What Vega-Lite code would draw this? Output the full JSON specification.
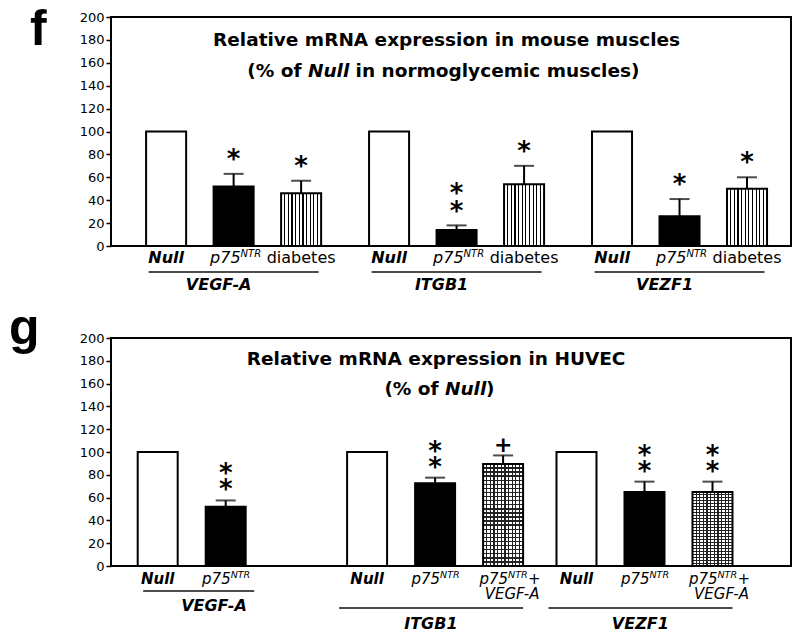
{
  "$schema": "https://vega.github.io/schema/vega-lite/v6.json",
  "background": "white",
  "padding": {"left": 8, "top": 4, "right": 5, "bottom": 5},
  "spacing": 92,
  "bounds": "flush",
  "resolve": {"scale": {"x": "independent", "xOffset": "independent", "y": "independent"}},
  "config": {
    "font": "DejaVu Sans",
    "view": {"stroke": "black", "strokeWidth": 2},
    "axis": {"labelFont": "DejaVu Sans", "labelFontSize": 13, "labelColor": "black", "tickColor": "black", "domainColor": "black", "grid": false, "labelOverlap": false},
    "axisY": {"tickSize": 5, "tickWidth": 1.5, "labelPadding": 2, "domain": false, "labelOverlap": false, "labelFlush": false},
    "text": {"color": "black"}
  },
  "datasets": {
    "fbars": [
      {"gene": "VEGF-A", "condition": "Null", "mean": 100},
      {"gene": "VEGF-A", "condition": "p75NTR", "mean": 52, "upper": 63, "sig": "*"},
      {"gene": "VEGF-A", "condition": "diabetes", "mean": 46, "upper": 57, "sig": "*"},
      {"gene": "ITGB1", "condition": "Null", "mean": 100},
      {"gene": "ITGB1", "condition": "p75NTR", "mean": 14, "upper": 18, "sig": "**"},
      {"gene": "ITGB1", "condition": "diabetes", "mean": 54, "upper": 70, "sig": "*"},
      {"gene": "VEZF1", "condition": "Null", "mean": 100},
      {"gene": "VEZF1", "condition": "p75NTR", "mean": 26, "upper": 41, "sig": "*"},
      {"gene": "VEZF1", "condition": "diabetes", "mean": 50, "upper": 60, "sig": "*"}
    ],
    "gbars": [
      {"gene": "VEGF-A", "condition": "Null", "mean": 100},
      {"gene": "VEGF-A", "condition": "p75NTR", "mean": 52, "upper": 57.5, "sig": "**"},
      {"gene": "ITGB1", "condition": "Null", "mean": 100},
      {"gene": "ITGB1", "condition": "p75NTR", "mean": 72.5, "upper": 77.5, "sig": "**"},
      {"gene": "ITGB1", "condition": "p75NTR+VEGF-A", "mean": 89.5, "upper": 97, "sig": "+"},
      {"gene": "VEZF1", "condition": "Null", "mean": 100},
      {"gene": "VEZF1", "condition": "p75NTR", "mean": 65, "upper": 74, "sig": "**"},
      {"gene": "VEZF1", "condition": "p75NTR+VEGF-A", "mean": 65, "upper": 74, "sig": "**"}
    ]
  },
  "vconcat": [
    {
      "width": 680,
      "height": 229,
      "title": {"text": "f", "anchor": "start", "frame": "group", "orient": "top", "font": "Liberation Sans", "fontSize": 50, "fontWeight": "bold", "color": "black", "baseline": "alphabetic", "offset": 0, "dx": -81, "dy": 84},
      "data": {"name": "fbars"},
      "layer": [
        {
          "transform": [{"filter": "datum.condition === 'Null'"}],
          "mark": {"type": "bar", "fill": "white", "stroke": "black", "strokeWidth": 2},
          "encoding": {
            "x": {"field": "gene", "type": "nominal", "scale": {"domain": ["VEGF-A", "ITGB1", "VEZF1"], "paddingInner": 0, "paddingOuter": 0.025, "align": 1}, "axis": null},
            "xOffset": {"field": "condition", "type": "nominal", "scale": {"domain": ["Null", "p75NTR", "diabetes"], "paddingInner": 0.407, "paddingOuter": 0.355}},
            "y": {"field": "mean", "type": "quantitative", "scale": {"domain": [0, 200], "nice": false}, "title": null, "axis": {"values": [0, 20, 40, 60, 80, 100, 120, 140, 160, 180, 200]}}
          }
        },
        {
          "transform": [{"filter": "datum.condition === 'p75NTR'"}],
          "mark": {"type": "bar", "fill": "black", "stroke": "black", "strokeWidth": 2},
          "encoding": {
            "x": {"field": "gene", "type": "nominal", "scale": {"domain": ["VEGF-A", "ITGB1", "VEZF1"], "paddingInner": 0, "paddingOuter": 0.025, "align": 1}, "axis": null},
            "xOffset": {"field": "condition", "type": "nominal", "scale": {"domain": ["Null", "p75NTR", "diabetes"], "paddingInner": 0.407, "paddingOuter": 0.355}},
            "y": {"field": "mean", "type": "quantitative", "scale": {"domain": [0, 200], "nice": false}, "title": null, "axis": {"values": [0, 20, 40, 60, 80, 100, 120, 140, 160, 180, 200]}}
          }
        },
        {
          "transform": [{"filter": "datum.condition === 'diabetes'"}],
          "mark": {"type": "bar", "stroke": "black", "strokeWidth": 2, "fill": {"gradient": "linear", "x1": 0, "y1": 0, "x2": 1, "y2": 0, "stops": [
            {"offset": 0, "color": "white"},
            {"offset": 0.0759, "color": "white"}, {"offset": 0.0759, "color": "black"}, {"offset": 0.1059, "color": "black"}, {"offset": 0.1059, "color": "white"},
            {"offset": 0.1668, "color": "white"}, {"offset": 0.1668, "color": "black"}, {"offset": 0.1968, "color": "black"}, {"offset": 0.1968, "color": "white"},
            {"offset": 0.2577, "color": "white"}, {"offset": 0.2577, "color": "black"}, {"offset": 0.2877, "color": "black"}, {"offset": 0.2877, "color": "white"},
            {"offset": 0.3486, "color": "white"}, {"offset": 0.3486, "color": "black"}, {"offset": 0.3786, "color": "black"}, {"offset": 0.3786, "color": "white"},
            {"offset": 0.4395, "color": "white"}, {"offset": 0.4395, "color": "black"}, {"offset": 0.4695, "color": "black"}, {"offset": 0.4695, "color": "white"},
            {"offset": 0.5305, "color": "white"}, {"offset": 0.5305, "color": "black"}, {"offset": 0.5605, "color": "black"}, {"offset": 0.5605, "color": "white"},
            {"offset": 0.6214, "color": "white"}, {"offset": 0.6214, "color": "black"}, {"offset": 0.6514, "color": "black"}, {"offset": 0.6514, "color": "white"},
            {"offset": 0.7123, "color": "white"}, {"offset": 0.7123, "color": "black"}, {"offset": 0.7423, "color": "black"}, {"offset": 0.7423, "color": "white"},
            {"offset": 0.8032, "color": "white"}, {"offset": 0.8032, "color": "black"}, {"offset": 0.8332, "color": "black"}, {"offset": 0.8332, "color": "white"},
            {"offset": 0.8941, "color": "white"}, {"offset": 0.8941, "color": "black"}, {"offset": 0.9241, "color": "black"}, {"offset": 0.9241, "color": "white"},
            {"offset": 1, "color": "white"}
          ]}},
          "encoding": {
            "x": {"field": "gene", "type": "nominal", "scale": {"domain": ["VEGF-A", "ITGB1", "VEZF1"], "paddingInner": 0, "paddingOuter": 0.025, "align": 1}, "axis": null},
            "xOffset": {"field": "condition", "type": "nominal", "scale": {"domain": ["Null", "p75NTR", "diabetes"], "paddingInner": 0.407, "paddingOuter": 0.355}},
            "y": {"field": "mean", "type": "quantitative", "scale": {"domain": [0, 200], "nice": false}, "title": null, "axis": {"values": [0, 20, 40, 60, 80, 100, 120, 140, 160, 180, 200]}}
          }
        },
        {
          "transform": [{"filter": "isValid(datum.upper)"}],
          "mark": {"type": "rule", "color": "black", "strokeWidth": 2},
          "encoding": {
            "x": {"field": "gene", "type": "nominal", "scale": {"domain": ["VEGF-A", "ITGB1", "VEZF1"], "paddingInner": 0, "paddingOuter": 0.025, "align": 1}, "axis": null},
            "xOffset": {"field": "condition", "type": "nominal", "scale": {"domain": ["Null", "p75NTR", "diabetes"], "paddingInner": 0.407, "paddingOuter": 0.355}},
            "y": {"field": "mean", "type": "quantitative", "scale": {"domain": [0, 200], "nice": false}, "title": null, "axis": {"values": [0, 20, 40, 60, 80, 100, 120, 140, 160, 180, 200]}},
            "y2": {"field": "upper"}
          }
        },
        {
          "transform": [{"filter": "isValid(datum.upper)"}],
          "mark": {"type": "tick", "color": "black", "thickness": 2, "size": 20, "orient": "horizontal"},
          "encoding": {
            "x": {"field": "gene", "type": "nominal", "scale": {"domain": ["VEGF-A", "ITGB1", "VEZF1"], "paddingInner": 0, "paddingOuter": 0.025, "align": 1}, "axis": null},
            "xOffset": {"field": "condition", "type": "nominal", "scale": {"domain": ["Null", "p75NTR", "diabetes"], "paddingInner": 0.407, "paddingOuter": 0.355}},
            "y": {"field": "upper", "type": "quantitative", "scale": {"domain": [0, 200], "nice": false}, "title": null, "axis": {"values": [0, 20, 40, 60, 80, 100, 120, 140, 160, 180, 200]}}
          }
        },
        {
          "transform": [{"filter": "datum.sig === '*'"}],
          "mark": {"type": "text", "fontWeight": "bold", "fontSize": 26, "baseline": "bottom", "dy": -1},
          "encoding": {
            "x": {"field": "gene", "type": "nominal", "scale": {"domain": ["VEGF-A", "ITGB1", "VEZF1"], "paddingInner": 0, "paddingOuter": 0.025, "align": 1}, "axis": null},
            "xOffset": {"field": "condition", "type": "nominal", "scale": {"domain": ["Null", "p75NTR", "diabetes"], "paddingInner": 0.407, "paddingOuter": 0.355}},
            "y": {"field": "upper", "type": "quantitative", "scale": {"domain": [0, 200], "nice": false}, "title": null, "axis": {"values": [0, 20, 40, 60, 80, 100, 120, 140, 160, 180, 200]}},
            "text": {"field": "sig"}
          }
        },
        {
          "transform": [{"filter": "datum.sig === '**'"}],
          "mark": {"type": "text", "fontWeight": "bold", "fontSize": 26, "baseline": "bottom", "dy": 0},
          "encoding": {
            "x": {"field": "gene", "type": "nominal", "scale": {"domain": ["VEGF-A", "ITGB1", "VEZF1"], "paddingInner": 0, "paddingOuter": 0.025, "align": 1}, "axis": null},
            "xOffset": {"field": "condition", "type": "nominal", "scale": {"domain": ["Null", "p75NTR", "diabetes"], "paddingInner": 0.407, "paddingOuter": 0.355}},
            "y": {"field": "upper", "type": "quantitative", "scale": {"domain": [0, 200], "nice": false}, "title": null, "axis": {"values": [0, 20, 40, 60, 80, 100, 120, 140, 160, 180, 200]}},
            "text": {"value": "*"}
          }
        },
        {
          "transform": [{"filter": "datum.sig === '**'"}],
          "mark": {"type": "text", "fontWeight": "bold", "fontSize": 26, "baseline": "bottom", "dy": -18},
          "encoding": {
            "x": {"field": "gene", "type": "nominal", "scale": {"domain": ["VEGF-A", "ITGB1", "VEZF1"], "paddingInner": 0, "paddingOuter": 0.025, "align": 1}, "axis": null},
            "xOffset": {"field": "condition", "type": "nominal", "scale": {"domain": ["Null", "p75NTR", "diabetes"], "paddingInner": 0.407, "paddingOuter": 0.355}},
            "y": {"field": "upper", "type": "quantitative", "scale": {"domain": [0, 200], "nice": false}, "title": null, "axis": {"values": [0, 20, 40, 60, 80, 100, 120, 140, 160, 180, 200]}},
            "text": {"value": "*"}
          }
        },
        {
          "transform": [{"filter": "datum.condition === 'Null'"}],
          "mark": {"type": "text", "fontSize": 16, "fontStyle": "italic", "fontWeight": "bold", "baseline": "middle"},
          "encoding": {
            "x": {"field": "gene", "type": "nominal", "scale": {"domain": ["VEGF-A", "ITGB1", "VEZF1"], "paddingInner": 0, "paddingOuter": 0.025, "align": 1}, "axis": null},
            "xOffset": {"field": "condition", "type": "nominal", "scale": {"domain": ["Null", "p75NTR", "diabetes"], "paddingInner": 0.407, "paddingOuter": 0.355}},
            "y": {"datum": -10.5, "type": "quantitative", "scale": {"domain": [0, 200], "nice": false}, "title": null, "axis": {"values": [0, 20, 40, 60, 80, 100, 120, 140, 160, 180, 200]}},
            "text": {"field": "condition"}
          }
        },
        {
          "transform": [{"filter": "datum.condition === 'p75NTR'"}],
          "mark": {"type": "text", "fontSize": 16, "fontStyle": "italic", "baseline": "middle", "align": "right", "dx": 7},
          "encoding": {
            "x": {"field": "gene", "type": "nominal", "scale": {"domain": ["VEGF-A", "ITGB1", "VEZF1"], "paddingInner": 0, "paddingOuter": 0.025, "align": 1}, "axis": null},
            "xOffset": {"field": "condition", "type": "nominal", "scale": {"domain": ["Null", "p75NTR", "diabetes"], "paddingInner": 0.407, "paddingOuter": 0.355}},
            "y": {"datum": -10.5, "type": "quantitative", "scale": {"domain": [0, 200], "nice": false}, "title": null, "axis": {"values": [0, 20, 40, 60, 80, 100, 120, 140, 160, 180, 200]}},
            "text": {"value": "p75"}
          }
        },
        {
          "transform": [{"filter": "datum.condition === 'p75NTR'"}],
          "mark": {"type": "text", "fontSize": 10, "fontStyle": "italic", "baseline": "middle", "align": "left", "dx": 7, "dy": -4},
          "encoding": {
            "x": {"field": "gene", "type": "nominal", "scale": {"domain": ["VEGF-A", "ITGB1", "VEZF1"], "paddingInner": 0, "paddingOuter": 0.025, "align": 1}, "axis": null},
            "xOffset": {"field": "condition", "type": "nominal", "scale": {"domain": ["Null", "p75NTR", "diabetes"], "paddingInner": 0.407, "paddingOuter": 0.355}},
            "y": {"datum": -10.5, "type": "quantitative", "scale": {"domain": [0, 200], "nice": false}, "title": null, "axis": {"values": [0, 20, 40, 60, 80, 100, 120, 140, 160, 180, 200]}},
            "text": {"value": "NTR"}
          }
        },
        {
          "transform": [{"filter": "datum.condition === 'diabetes'"}],
          "mark": {"type": "text", "fontSize": 16, "baseline": "middle"},
          "encoding": {
            "x": {"field": "gene", "type": "nominal", "scale": {"domain": ["VEGF-A", "ITGB1", "VEZF1"], "paddingInner": 0, "paddingOuter": 0.025, "align": 1}, "axis": null},
            "xOffset": {"field": "condition", "type": "nominal", "scale": {"domain": ["Null", "p75NTR", "diabetes"], "paddingInner": 0.407, "paddingOuter": 0.355}},
            "y": {"datum": -10.5, "type": "quantitative", "scale": {"domain": [0, 200], "nice": false}, "title": null, "axis": {"values": [0, 20, 40, 60, 80, 100, 120, 140, 160, 180, 200]}},
            "text": {"field": "condition"}
          }
        },
        {
          "transform": [{"filter": "datum.condition === 'p75NTR'"}],
          "mark": {"type": "tick", "orient": "horizontal", "size": 170, "thickness": 2, "color": "black"},
          "encoding": {
            "x": {"field": "gene", "type": "nominal", "scale": {"domain": ["VEGF-A", "ITGB1", "VEZF1"], "paddingInner": 0, "paddingOuter": 0.025, "align": 1}, "axis": null},
            "y": {"datum": -22.7, "type": "quantitative", "scale": {"domain": [0, 200], "nice": false}, "title": null, "axis": {"values": [0, 20, 40, 60, 80, 100, 120, 140, 160, 180, 200]}}
          }
        },
        {
          "transform": [{"filter": "datum.condition === 'p75NTR'"}],
          "mark": {"type": "text", "fontSize": 16, "fontStyle": "italic", "fontWeight": "bold", "baseline": "middle", "dx": -15},
          "encoding": {
            "x": {"field": "gene", "type": "nominal", "scale": {"domain": ["VEGF-A", "ITGB1", "VEZF1"], "paddingInner": 0, "paddingOuter": 0.025, "align": 1}, "axis": null},
            "y": {"datum": -34, "type": "quantitative", "scale": {"domain": [0, 200], "nice": false}, "title": null, "axis": {"values": [0, 20, 40, 60, 80, 100, 120, 140, 160, 180, 200]}},
            "text": {"field": "gene"}
          }
        },
        {
          "transform": [{"filter": "datum.gene === 'ITGB1' && datum.condition === 'Null'"}],
          "mark": {"type": "text", "fontSize": 18.5, "fontWeight": "bold", "baseline": "middle", "dx": -10},
          "encoding": {
            "x": {"field": "gene", "type": "nominal", "scale": {"domain": ["VEGF-A", "ITGB1", "VEZF1"], "paddingInner": 0, "paddingOuter": 0.025, "align": 1}, "axis": null},
            "y": {"datum": 180, "type": "quantitative", "scale": {"domain": [0, 200], "nice": false}, "title": null, "axis": {"values": [0, 20, 40, 60, 80, 100, 120, 140, 160, 180, 200]}},
            "text": {"value": "Relative mRNA expression in mouse muscles"}
          }
        },
        {
          "transform": [{"filter": "datum.gene === 'ITGB1' && datum.condition === 'Null'"}],
          "mark": {"type": "text", "fontSize": 18.5, "fontWeight": "bold", "baseline": "middle", "align": "right", "dx": -155},
          "encoding": {
            "x": {"field": "gene", "type": "nominal", "scale": {"domain": ["VEGF-A", "ITGB1", "VEZF1"], "paddingInner": 0, "paddingOuter": 0.025, "align": 1}, "axis": null},
            "y": {"datum": 153, "type": "quantitative", "scale": {"domain": [0, 200], "nice": false}, "title": null, "axis": {"values": [0, 20, 40, 60, 80, 100, 120, 140, 160, 180, 200]}},
            "text": {"value": "(% of"}
          }
        },
        {
          "transform": [{"filter": "datum.gene === 'ITGB1' && datum.condition === 'Null'"}],
          "mark": {"type": "text", "fontSize": 18.5, "fontWeight": "bold", "fontStyle": "italic", "baseline": "middle", "align": "center", "dx": -128},
          "encoding": {
            "x": {"field": "gene", "type": "nominal", "scale": {"domain": ["VEGF-A", "ITGB1", "VEZF1"], "paddingInner": 0, "paddingOuter": 0.025, "align": 1}, "axis": null},
            "y": {"datum": 153, "type": "quantitative", "scale": {"domain": [0, 200], "nice": false}, "title": null, "axis": {"values": [0, 20, 40, 60, 80, 100, 120, 140, 160, 180, 200]}},
            "text": {"value": "Null"}
          }
        },
        {
          "transform": [{"filter": "datum.gene === 'ITGB1' && datum.condition === 'Null'"}],
          "mark": {"type": "text", "fontSize": 18.5, "fontWeight": "bold", "baseline": "middle", "align": "left", "dx": -101},
          "encoding": {
            "x": {"field": "gene", "type": "nominal", "scale": {"domain": ["VEGF-A", "ITGB1", "VEZF1"], "paddingInner": 0, "paddingOuter": 0.025, "align": 1}, "axis": null},
            "y": {"datum": 153, "type": "quantitative", "scale": {"domain": [0, 200], "nice": false}, "title": null, "axis": {"values": [0, 20, 40, 60, 80, 100, 120, 140, 160, 180, 200]}},
            "text": {"value": "in normoglycemic muscles)"}
          }
        }
      ]
    },
    {
      "width": 680,
      "height": 228,
      "title": {"text": "g", "anchor": "start", "frame": "group", "orient": "top", "font": "Liberation Sans", "fontSize": 50, "fontWeight": "bold", "color": "black", "baseline": "alphabetic", "offset": 0, "dx": -102, "dy": 62},
      "data": {"name": "gbars"},
      "layer": [
        {
          "transform": [{"filter": "datum.condition === 'Null'"}],
          "mark": {"type": "bar", "fill": "white", "stroke": "black", "strokeWidth": 2},
          "encoding": {
            "x": {"field": "gene", "type": "nominal", "scale": {"domain": ["VEGF-A", "ITGB1", "VEZF1"], "paddingInner": 0, "paddingOuter": 0.1237, "align": 0.193}, "axis": null},
            "xOffset": {"field": "condition", "type": "nominal", "scale": {"domain": ["Null", "p75NTR", "p75NTR+VEGF-A"], "paddingInner": 0.412, "paddingOuter": 0.2456}},
            "y": {"field": "mean", "type": "quantitative", "scale": {"domain": [0, 200], "nice": false}, "title": null, "axis": {"values": [0, 20, 40, 60, 80, 100, 120, 140, 160, 180, 200]}}
          }
        },
        {
          "transform": [{"filter": "datum.condition === 'p75NTR'"}],
          "mark": {"type": "bar", "fill": "black", "stroke": "black", "strokeWidth": 2},
          "encoding": {
            "x": {"field": "gene", "type": "nominal", "scale": {"domain": ["VEGF-A", "ITGB1", "VEZF1"], "paddingInner": 0, "paddingOuter": 0.1237, "align": 0.193}, "axis": null},
            "xOffset": {"field": "condition", "type": "nominal", "scale": {"domain": ["Null", "p75NTR", "p75NTR+VEGF-A"], "paddingInner": 0.412, "paddingOuter": 0.2456}},
            "y": {"field": "mean", "type": "quantitative", "scale": {"domain": [0, 200], "nice": false}, "title": null, "axis": {"values": [0, 20, 40, 60, 80, 100, 120, 140, 160, 180, 200]}}
          }
        },
        {
          "transform": [{"filter": "datum.condition === 'p75NTR+VEGF-A'"}],
          "mark": {"type": "bar", "fill": {"gradient": "linear", "x1": 0, "y1": 0, "x2": 1, "y2": 0, "stops": [
            {"offset": 0, "color": "white"},
            {"offset": 0.0759, "color": "white"}, {"offset": 0.0759, "color": "#222"}, {"offset": 0.1059, "color": "#222"}, {"offset": 0.1059, "color": "white"},
            {"offset": 0.1668, "color": "white"}, {"offset": 0.1668, "color": "#222"}, {"offset": 0.1968, "color": "#222"}, {"offset": 0.1968, "color": "white"},
            {"offset": 0.2577, "color": "white"}, {"offset": 0.2577, "color": "#222"}, {"offset": 0.2877, "color": "#222"}, {"offset": 0.2877, "color": "white"},
            {"offset": 0.3486, "color": "white"}, {"offset": 0.3486, "color": "#222"}, {"offset": 0.3786, "color": "#222"}, {"offset": 0.3786, "color": "white"},
            {"offset": 0.4395, "color": "white"}, {"offset": 0.4395, "color": "#222"}, {"offset": 0.4695, "color": "#222"}, {"offset": 0.4695, "color": "white"},
            {"offset": 0.5305, "color": "white"}, {"offset": 0.5305, "color": "#222"}, {"offset": 0.5605, "color": "#222"}, {"offset": 0.5605, "color": "white"},
            {"offset": 0.6214, "color": "white"}, {"offset": 0.6214, "color": "#222"}, {"offset": 0.6514, "color": "#222"}, {"offset": 0.6514, "color": "white"},
            {"offset": 0.7123, "color": "white"}, {"offset": 0.7123, "color": "#222"}, {"offset": 0.7423, "color": "#222"}, {"offset": 0.7423, "color": "white"},
            {"offset": 0.8032, "color": "white"}, {"offset": 0.8032, "color": "#222"}, {"offset": 0.8332, "color": "#222"}, {"offset": 0.8332, "color": "white"},
            {"offset": 0.8941, "color": "white"}, {"offset": 0.8941, "color": "#222"}, {"offset": 0.9241, "color": "#222"}, {"offset": 0.9241, "color": "white"},
            {"offset": 1, "color": "white"}
          ]}},
          "encoding": {
            "x": {"field": "gene", "type": "nominal", "scale": {"domain": ["VEGF-A", "ITGB1", "VEZF1"], "paddingInner": 0, "paddingOuter": 0.1237, "align": 0.193}, "axis": null},
            "xOffset": {"field": "condition", "type": "nominal", "scale": {"domain": ["Null", "p75NTR", "p75NTR+VEGF-A"], "paddingInner": 0.412, "paddingOuter": 0.2456}},
            "y": {"field": "mean", "type": "quantitative", "scale": {"domain": [0, 200], "nice": false}, "title": null, "axis": {"values": [0, 20, 40, 60, 80, 100, 120, 140, 160, 180, 200]}}
          }
        },
        {
          "transform": [{"filter": "datum.condition === 'p75NTR+VEGF-A'"}],
          "mark": {"type": "bar", "stroke": "black", "strokeWidth": 2, "fill": {"gradient": "linear", "x1": 0, "y1": 0, "x2": 0, "y2": 1, "stops": [
            {"offset": 0, "color": "rgba(0,0,0,0)"},
            {"offset": 0.033, "color": "rgba(0,0,0,0)"}, {"offset": 0.033, "color": "#222"}, {"offset": 0.047, "color": "#222"}, {"offset": 0.047, "color": "rgba(0,0,0,0)"},
            {"offset": 0.073, "color": "rgba(0,0,0,0)"}, {"offset": 0.073, "color": "#222"}, {"offset": 0.087, "color": "#222"}, {"offset": 0.087, "color": "rgba(0,0,0,0)"},
            {"offset": 0.113, "color": "rgba(0,0,0,0)"}, {"offset": 0.113, "color": "#222"}, {"offset": 0.127, "color": "#222"}, {"offset": 0.127, "color": "rgba(0,0,0,0)"},
            {"offset": 0.153, "color": "rgba(0,0,0,0)"}, {"offset": 0.153, "color": "#222"}, {"offset": 0.167, "color": "#222"}, {"offset": 0.167, "color": "rgba(0,0,0,0)"},
            {"offset": 0.193, "color": "rgba(0,0,0,0)"}, {"offset": 0.193, "color": "#222"}, {"offset": 0.207, "color": "#222"}, {"offset": 0.207, "color": "rgba(0,0,0,0)"},
            {"offset": 0.233, "color": "rgba(0,0,0,0)"}, {"offset": 0.233, "color": "#222"}, {"offset": 0.247, "color": "#222"}, {"offset": 0.247, "color": "rgba(0,0,0,0)"},
            {"offset": 0.273, "color": "rgba(0,0,0,0)"}, {"offset": 0.273, "color": "#222"}, {"offset": 0.287, "color": "#222"}, {"offset": 0.287, "color": "rgba(0,0,0,0)"},
            {"offset": 0.313, "color": "rgba(0,0,0,0)"}, {"offset": 0.313, "color": "#222"}, {"offset": 0.327, "color": "#222"}, {"offset": 0.327, "color": "rgba(0,0,0,0)"},
            {"offset": 0.353, "color": "rgba(0,0,0,0)"}, {"offset": 0.353, "color": "#222"}, {"offset": 0.367, "color": "#222"}, {"offset": 0.367, "color": "rgba(0,0,0,0)"},
            {"offset": 0.393, "color": "rgba(0,0,0,0)"}, {"offset": 0.393, "color": "#222"}, {"offset": 0.407, "color": "#222"}, {"offset": 0.407, "color": "rgba(0,0,0,0)"},
            {"offset": 0.433, "color": "rgba(0,0,0,0)"}, {"offset": 0.433, "color": "#222"}, {"offset": 0.447, "color": "#222"}, {"offset": 0.447, "color": "rgba(0,0,0,0)"},
            {"offset": 0.473, "color": "rgba(0,0,0,0)"}, {"offset": 0.473, "color": "#222"}, {"offset": 0.487, "color": "#222"}, {"offset": 0.487, "color": "rgba(0,0,0,0)"},
            {"offset": 0.513, "color": "rgba(0,0,0,0)"}, {"offset": 0.513, "color": "#222"}, {"offset": 0.527, "color": "#222"}, {"offset": 0.527, "color": "rgba(0,0,0,0)"},
            {"offset": 0.553, "color": "rgba(0,0,0,0)"}, {"offset": 0.553, "color": "#222"}, {"offset": 0.567, "color": "#222"}, {"offset": 0.567, "color": "rgba(0,0,0,0)"},
            {"offset": 0.593, "color": "rgba(0,0,0,0)"}, {"offset": 0.593, "color": "#222"}, {"offset": 0.607, "color": "#222"}, {"offset": 0.607, "color": "rgba(0,0,0,0)"},
            {"offset": 0.633, "color": "rgba(0,0,0,0)"}, {"offset": 0.633, "color": "#222"}, {"offset": 0.647, "color": "#222"}, {"offset": 0.647, "color": "rgba(0,0,0,0)"},
            {"offset": 0.673, "color": "rgba(0,0,0,0)"}, {"offset": 0.673, "color": "#222"}, {"offset": 0.687, "color": "#222"}, {"offset": 0.687, "color": "rgba(0,0,0,0)"},
            {"offset": 0.713, "color": "rgba(0,0,0,0)"}, {"offset": 0.713, "color": "#222"}, {"offset": 0.727, "color": "#222"}, {"offset": 0.727, "color": "rgba(0,0,0,0)"},
            {"offset": 0.753, "color": "rgba(0,0,0,0)"}, {"offset": 0.753, "color": "#222"}, {"offset": 0.767, "color": "#222"}, {"offset": 0.767, "color": "rgba(0,0,0,0)"},
            {"offset": 0.793, "color": "rgba(0,0,0,0)"}, {"offset": 0.793, "color": "#222"}, {"offset": 0.807, "color": "#222"}, {"offset": 0.807, "color": "rgba(0,0,0,0)"},
            {"offset": 0.833, "color": "rgba(0,0,0,0)"}, {"offset": 0.833, "color": "#222"}, {"offset": 0.847, "color": "#222"}, {"offset": 0.847, "color": "rgba(0,0,0,0)"},
            {"offset": 0.873, "color": "rgba(0,0,0,0)"}, {"offset": 0.873, "color": "#222"}, {"offset": 0.887, "color": "#222"}, {"offset": 0.887, "color": "rgba(0,0,0,0)"},
            {"offset": 0.913, "color": "rgba(0,0,0,0)"}, {"offset": 0.913, "color": "#222"}, {"offset": 0.927, "color": "#222"}, {"offset": 0.927, "color": "rgba(0,0,0,0)"},
            {"offset": 0.953, "color": "rgba(0,0,0,0)"}, {"offset": 0.953, "color": "#222"}, {"offset": 0.967, "color": "#222"}, {"offset": 0.967, "color": "rgba(0,0,0,0)"},
            {"offset": 1, "color": "rgba(0,0,0,0)"}
          ]}},
          "encoding": {
            "x": {"field": "gene", "type": "nominal", "scale": {"domain": ["VEGF-A", "ITGB1", "VEZF1"], "paddingInner": 0, "paddingOuter": 0.1237, "align": 0.193}, "axis": null},
            "xOffset": {"field": "condition", "type": "nominal", "scale": {"domain": ["Null", "p75NTR", "p75NTR+VEGF-A"], "paddingInner": 0.412, "paddingOuter": 0.2456}},
            "y": {"field": "mean", "type": "quantitative", "scale": {"domain": [0, 200], "nice": false}, "title": null, "axis": {"values": [0, 20, 40, 60, 80, 100, 120, 140, 160, 180, 200]}}
          }
        },
        {
          "transform": [{"filter": "isValid(datum.upper)"}],
          "mark": {"type": "rule", "color": "black", "strokeWidth": 2},
          "encoding": {
            "x": {"field": "gene", "type": "nominal", "scale": {"domain": ["VEGF-A", "ITGB1", "VEZF1"], "paddingInner": 0, "paddingOuter": 0.1237, "align": 0.193}, "axis": null},
            "xOffset": {"field": "condition", "type": "nominal", "scale": {"domain": ["Null", "p75NTR", "p75NTR+VEGF-A"], "paddingInner": 0.412, "paddingOuter": 0.2456}},
            "y": {"field": "mean", "type": "quantitative", "scale": {"domain": [0, 200], "nice": false}, "title": null, "axis": {"values": [0, 20, 40, 60, 80, 100, 120, 140, 160, 180, 200]}},
            "y2": {"field": "upper"}
          }
        },
        {
          "transform": [{"filter": "isValid(datum.upper)"}],
          "mark": {"type": "tick", "color": "black", "thickness": 2, "size": 20, "orient": "horizontal"},
          "encoding": {
            "x": {"field": "gene", "type": "nominal", "scale": {"domain": ["VEGF-A", "ITGB1", "VEZF1"], "paddingInner": 0, "paddingOuter": 0.1237, "align": 0.193}, "axis": null},
            "xOffset": {"field": "condition", "type": "nominal", "scale": {"domain": ["Null", "p75NTR", "p75NTR+VEGF-A"], "paddingInner": 0.412, "paddingOuter": 0.2456}},
            "y": {"field": "upper", "type": "quantitative", "scale": {"domain": [0, 200], "nice": false}, "title": null, "axis": {"values": [0, 20, 40, 60, 80, 100, 120, 140, 160, 180, 200]}}
          }
        },
        {
          "transform": [{"filter": "datum.sig === '**'"}],
          "mark": {"type": "text", "fontWeight": "bold", "fontSize": 26, "baseline": "bottom", "dy": 3},
          "encoding": {
            "x": {"field": "gene", "type": "nominal", "scale": {"domain": ["VEGF-A", "ITGB1", "VEZF1"], "paddingInner": 0, "paddingOuter": 0.1237, "align": 0.193}, "axis": null},
            "xOffset": {"field": "condition", "type": "nominal", "scale": {"domain": ["Null", "p75NTR", "p75NTR+VEGF-A"], "paddingInner": 0.412, "paddingOuter": 0.2456}},
            "y": {"field": "upper", "type": "quantitative", "scale": {"domain": [0, 200], "nice": false}, "title": null, "axis": {"values": [0, 20, 40, 60, 80, 100, 120, 140, 160, 180, 200]}},
            "text": {"value": "*"}
          }
        },
        {
          "transform": [{"filter": "datum.sig === '**'"}],
          "mark": {"type": "text", "fontWeight": "bold", "fontSize": 26, "baseline": "bottom", "dy": -13},
          "encoding": {
            "x": {"field": "gene", "type": "nominal", "scale": {"domain": ["VEGF-A", "ITGB1", "VEZF1"], "paddingInner": 0, "paddingOuter": 0.1237, "align": 0.193}, "axis": null},
            "xOffset": {"field": "condition", "type": "nominal", "scale": {"domain": ["Null", "p75NTR", "p75NTR+VEGF-A"], "paddingInner": 0.412, "paddingOuter": 0.2456}},
            "y": {"field": "upper", "type": "quantitative", "scale": {"domain": [0, 200], "nice": false}, "title": null, "axis": {"values": [0, 20, 40, 60, 80, 100, 120, 140, 160, 180, 200]}},
            "text": {"value": "*"}
          }
        },
        {
          "transform": [{"filter": "datum.sig === '+'"}],
          "mark": {"type": "text", "fontWeight": "bold", "fontSize": 22, "baseline": "bottom", "dy": 1.5},
          "encoding": {
            "x": {"field": "gene", "type": "nominal", "scale": {"domain": ["VEGF-A", "ITGB1", "VEZF1"], "paddingInner": 0, "paddingOuter": 0.1237, "align": 0.193}, "axis": null},
            "xOffset": {"field": "condition", "type": "nominal", "scale": {"domain": ["Null", "p75NTR", "p75NTR+VEGF-A"], "paddingInner": 0.412, "paddingOuter": 0.2456}},
            "y": {"field": "upper", "type": "quantitative", "scale": {"domain": [0, 200], "nice": false}, "title": null, "axis": {"values": [0, 20, 40, 60, 80, 100, 120, 140, 160, 180, 200]}},
            "text": {"field": "sig"}
          }
        },
        {
          "transform": [{"filter": "datum.condition === 'Null'"}],
          "mark": {"type": "text", "fontSize": 15, "fontStyle": "italic", "fontWeight": "bold", "baseline": "middle"},
          "encoding": {
            "x": {"field": "gene", "type": "nominal", "scale": {"domain": ["VEGF-A", "ITGB1", "VEZF1"], "paddingInner": 0, "paddingOuter": 0.1237, "align": 0.193}, "axis": null},
            "xOffset": {"field": "condition", "type": "nominal", "scale": {"domain": ["Null", "p75NTR", "p75NTR+VEGF-A"], "paddingInner": 0.412, "paddingOuter": 0.2456}},
            "y": {"datum": -11.4, "type": "quantitative", "scale": {"domain": [0, 200], "nice": false}, "title": null, "axis": {"values": [0, 20, 40, 60, 80, 100, 120, 140, 160, 180, 200]}},
            "text": {"field": "condition"}
          }
        },
        {
          "transform": [{"filter": "datum.condition !== 'Null'"}],
          "mark": {"type": "text", "fontSize": 15, "fontStyle": "italic", "baseline": "middle", "align": "right", "dx": 5},
          "encoding": {
            "x": {"field": "gene", "type": "nominal", "scale": {"domain": ["VEGF-A", "ITGB1", "VEZF1"], "paddingInner": 0, "paddingOuter": 0.1237, "align": 0.193}, "axis": null},
            "xOffset": {"field": "condition", "type": "nominal", "scale": {"domain": ["Null", "p75NTR", "p75NTR+VEGF-A"], "paddingInner": 0.412, "paddingOuter": 0.2456}},
            "y": {"datum": -11.4, "type": "quantitative", "scale": {"domain": [0, 200], "nice": false}, "title": null, "axis": {"values": [0, 20, 40, 60, 80, 100, 120, 140, 160, 180, 200]}},
            "text": {"value": "p75"}
          }
        },
        {
          "transform": [{"filter": "datum.condition !== 'Null'"}],
          "mark": {"type": "text", "fontSize": 9.5, "fontStyle": "italic", "baseline": "middle", "align": "left", "dx": 5, "dy": -4},
          "encoding": {
            "x": {"field": "gene", "type": "nominal", "scale": {"domain": ["VEGF-A", "ITGB1", "VEZF1"], "paddingInner": 0, "paddingOuter": 0.1237, "align": 0.193}, "axis": null},
            "xOffset": {"field": "condition", "type": "nominal", "scale": {"domain": ["Null", "p75NTR", "p75NTR+VEGF-A"], "paddingInner": 0.412, "paddingOuter": 0.2456}},
            "y": {"datum": -11.4, "type": "quantitative", "scale": {"domain": [0, 200], "nice": false}, "title": null, "axis": {"values": [0, 20, 40, 60, 80, 100, 120, 140, 160, 180, 200]}},
            "text": {"value": "NTR"}
          }
        },
        {
          "transform": [{"filter": "datum.condition === 'p75NTR+VEGF-A'"}],
          "mark": {"type": "text", "fontSize": 15, "fontStyle": "italic", "baseline": "middle", "align": "left", "dx": 25},
          "encoding": {
            "x": {"field": "gene", "type": "nominal", "scale": {"domain": ["VEGF-A", "ITGB1", "VEZF1"], "paddingInner": 0, "paddingOuter": 0.1237, "align": 0.193}, "axis": null},
            "xOffset": {"field": "condition", "type": "nominal", "scale": {"domain": ["Null", "p75NTR", "p75NTR+VEGF-A"], "paddingInner": 0.412, "paddingOuter": 0.2456}},
            "y": {"datum": -11.4, "type": "quantitative", "scale": {"domain": [0, 200], "nice": false}, "title": null, "axis": {"values": [0, 20, 40, 60, 80, 100, 120, 140, 160, 180, 200]}},
            "text": {"value": "+"}
          }
        },
        {
          "transform": [{"filter": "datum.condition === 'p75NTR+VEGF-A'"}],
          "mark": {"type": "text", "fontSize": 15, "fontStyle": "italic", "baseline": "middle", "align": "center", "dx": 9},
          "encoding": {
            "x": {"field": "gene", "type": "nominal", "scale": {"domain": ["VEGF-A", "ITGB1", "VEZF1"], "paddingInner": 0, "paddingOuter": 0.1237, "align": 0.193}, "axis": null},
            "xOffset": {"field": "condition", "type": "nominal", "scale": {"domain": ["Null", "p75NTR", "p75NTR+VEGF-A"], "paddingInner": 0.412, "paddingOuter": 0.2456}},
            "y": {"datum": -24.6, "type": "quantitative", "scale": {"domain": [0, 200], "nice": false}, "title": null, "axis": {"values": [0, 20, 40, 60, 80, 100, 120, 140, 160, 180, 200]}},
            "text": {"value": "VEGF-A"}
          }
        },
        {
          "transform": [{"filter": "datum.condition === 'p75NTR' && datum.gene === 'VEGF-A'"}],
          "mark": {"type": "tick", "orient": "horizontal", "size": 111, "thickness": 2, "color": "black", "xOffset": -27},
          "encoding": {
            "x": {"field": "gene", "type": "nominal", "scale": {"domain": ["VEGF-A", "ITGB1", "VEZF1"], "paddingInner": 0, "paddingOuter": 0.1237, "align": 0.193}, "axis": null},
            "y": {"datum": -22, "type": "quantitative", "scale": {"domain": [0, 200], "nice": false}, "title": null, "axis": {"values": [0, 20, 40, 60, 80, 100, 120, 140, 160, 180, 200]}}
          }
        },
        {
          "transform": [{"filter": "datum.condition === 'p75NTR' && datum.gene !== 'VEGF-A'"}],
          "mark": {"type": "tick", "orient": "horizontal", "size": 184, "thickness": 2, "color": "black", "xOffset": -4},
          "encoding": {
            "x": {"field": "gene", "type": "nominal", "scale": {"domain": ["VEGF-A", "ITGB1", "VEZF1"], "paddingInner": 0, "paddingOuter": 0.1237, "align": 0.193}, "axis": null},
            "y": {"datum": -36.8, "type": "quantitative", "scale": {"domain": [0, 200], "nice": false}, "title": null, "axis": {"values": [0, 20, 40, 60, 80, 100, 120, 140, 160, 180, 200]}}
          }
        },
        {
          "transform": [{"filter": "datum.condition === 'p75NTR' && datum.gene === 'VEGF-A'"}],
          "mark": {"type": "text", "fontSize": 16, "fontStyle": "italic", "fontWeight": "bold", "baseline": "middle"},
          "encoding": {
            "x": {"field": "gene", "type": "nominal", "bandPosition": 0.444, "scale": {"domain": ["VEGF-A", "ITGB1", "VEZF1"], "paddingInner": 0, "paddingOuter": 0.1237, "align": 0.193}, "axis": null},
            "y": {"datum": -35, "type": "quantitative", "scale": {"domain": [0, 200], "nice": false}, "title": null, "axis": {"values": [0, 20, 40, 60, 80, 100, 120, 140, 160, 180, 200]}},
            "text": {"field": "gene"}
          }
        },
        {
          "transform": [{"filter": "datum.condition === 'p75NTR' && datum.gene !== 'VEGF-A'"}],
          "mark": {"type": "text", "fontSize": 16, "fontStyle": "italic", "fontWeight": "bold", "baseline": "middle"},
          "encoding": {
            "x": {"field": "gene", "type": "nominal", "bandPosition": 0.48, "scale": {"domain": ["VEGF-A", "ITGB1", "VEZF1"], "paddingInner": 0, "paddingOuter": 0.1237, "align": 0.193}, "axis": null},
            "y": {"datum": -51, "type": "quantitative", "scale": {"domain": [0, 200], "nice": false}, "title": null, "axis": {"values": [0, 20, 40, 60, 80, 100, 120, 140, 160, 180, 200]}},
            "text": {"field": "gene"}
          }
        },
        {
          "transform": [{"filter": "datum.gene === 'ITGB1' && datum.condition === 'Null'"}],
          "mark": {"type": "text", "fontSize": 18.5, "fontWeight": "bold", "baseline": "middle", "dx": 1},
          "encoding": {
            "x": {"field": "gene", "type": "nominal", "scale": {"domain": ["VEGF-A", "ITGB1", "VEZF1"], "paddingInner": 0, "paddingOuter": 0.1237, "align": 0.193}, "axis": null},
            "y": {"datum": 181.6, "type": "quantitative", "scale": {"domain": [0, 200], "nice": false}, "title": null, "axis": {"values": [0, 20, 40, 60, 80, 100, 120, 140, 160, 180, 200]}},
            "text": {"value": "Relative mRNA expression in HUVEC"}
          }
        },
        {
          "transform": [{"filter": "datum.gene === 'ITGB1' && datum.condition === 'Null'"}],
          "mark": {"type": "text", "fontSize": 18.5, "fontWeight": "bold", "baseline": "middle", "align": "right", "dx": 3.5},
          "encoding": {
            "x": {"field": "gene", "type": "nominal", "scale": {"domain": ["VEGF-A", "ITGB1", "VEZF1"], "paddingInner": 0, "paddingOuter": 0.1237, "align": 0.193}, "axis": null},
            "y": {"datum": 155, "type": "quantitative", "scale": {"domain": [0, 200], "nice": false}, "title": null, "axis": {"values": [0, 20, 40, 60, 80, 100, 120, 140, 160, 180, 200]}},
            "text": {"value": "(% of"}
          }
        },
        {
          "transform": [{"filter": "datum.gene === 'ITGB1' && datum.condition === 'Null'"}],
          "mark": {"type": "text", "fontSize": 18.5, "fontWeight": "bold", "fontStyle": "italic", "baseline": "middle", "align": "center", "dx": 30.5},
          "encoding": {
            "x": {"field": "gene", "type": "nominal", "scale": {"domain": ["VEGF-A", "ITGB1", "VEZF1"], "paddingInner": 0, "paddingOuter": 0.1237, "align": 0.193}, "axis": null},
            "y": {"datum": 155, "type": "quantitative", "scale": {"domain": [0, 200], "nice": false}, "title": null, "axis": {"values": [0, 20, 40, 60, 80, 100, 120, 140, 160, 180, 200]}},
            "text": {"value": "Null"}
          }
        },
        {
          "transform": [{"filter": "datum.gene === 'ITGB1' && datum.condition === 'Null'"}],
          "mark": {"type": "text", "fontSize": 18.5, "fontWeight": "bold", "baseline": "middle", "align": "left", "dx": 51},
          "encoding": {
            "x": {"field": "gene", "type": "nominal", "scale": {"domain": ["VEGF-A", "ITGB1", "VEZF1"], "paddingInner": 0, "paddingOuter": 0.1237, "align": 0.193}, "axis": null},
            "y": {"datum": 155, "type": "quantitative", "scale": {"domain": [0, 200], "nice": false}, "title": null, "axis": {"values": [0, 20, 40, 60, 80, 100, 120, 140, 160, 180, 200]}},
            "text": {"value": ")"}
          }
        }
      ]
    }
  ]
}
